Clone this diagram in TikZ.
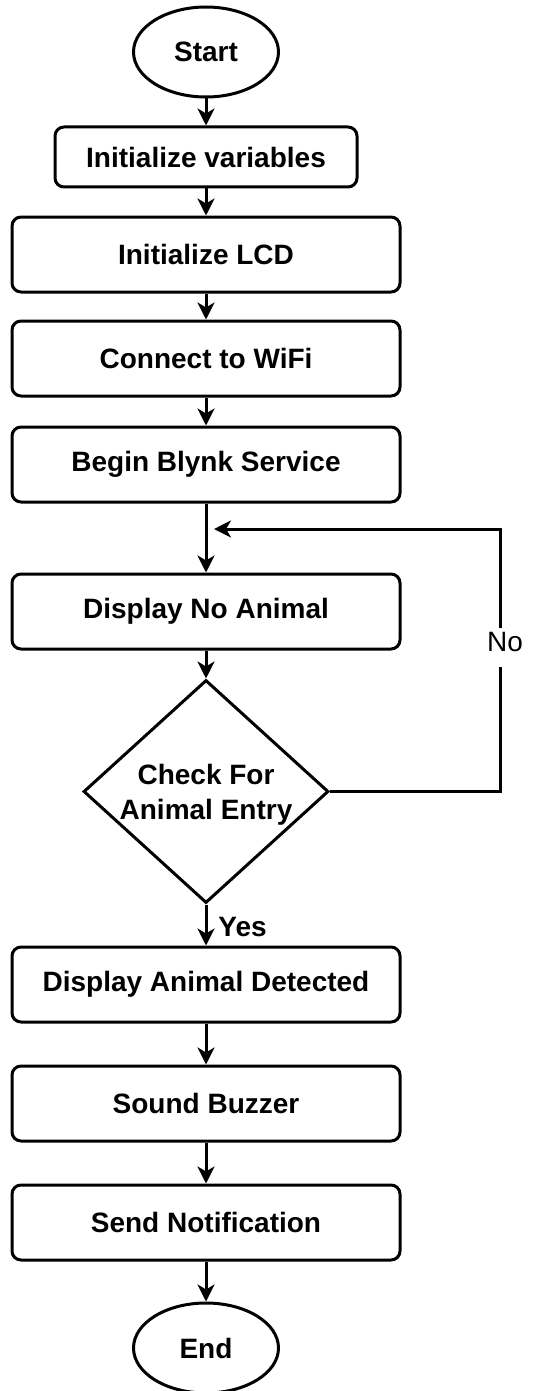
\documentclass[tikz,border=0pt]{standalone}
\usepackage{fontspec}
\setmainfont{Liberation Sans}
\usetikzlibrary{shapes.geometric,arrows.meta}
\begin{document}
\begin{tikzpicture}[x=1pt,y=-1pt,
  every node/.style={font=\fontsize{28}{35}\selectfont\bfseries},
  proc/.style={draw, line width=3pt, rounded corners=9pt, minimum width=388pt, minimum height=75pt, inner sep=0pt},
  term/.style={draw, line width=3pt, ellipse, minimum width=145pt, minimum height=90pt, inner sep=0pt},
  arr/.style={line width=3pt, -{Stealth[length=17pt,width=17pt,inset=5pt]}},
  lbl/.style={font=\fontsize{28}{35}\selectfont\bfseries, inner sep=2pt}]
\useasboundingbox (0,0) rectangle (542,1391);
\node[term] (start) at (206,52) {Start};
\node[proc, minimum width=302pt, minimum height=60pt] (iv) at (206,157) {Initialize variables};
\node[proc] (lcd) at (206,254.5) {Initialize LCD};
\node[proc] (wifi) at (206,358.5) {Connect to WiFi};
\node[proc] (blynk) at (206,464.5) {Begin Blynk Service};
\node[proc] (dna) at (206,611.5) {Display No Animal};
\node[draw, line width=3pt, diamond, minimum width=245pt, minimum height=223pt, inner sep=0pt] (dec) at (206,791.5) {};
\node[align=center, inner sep=0pt] (dect) at (206,795) {Check For\\Animal Entry};
\node[proc] (dad) at (206,984.5) {Display Animal Detected};
\node[proc] (buz) at (206,1103.5) {Sound Buzzer};
\node[proc] (notif) at (206,1222.5) {Send Notification};
\node[term] (end) at (206,1348) {End};
\coordinate (ctop) at (500,529);
\coordinate (loopend) at (214,529);
\draw[arr] (start) -- (iv);
\draw[arr] (iv) -- (lcd);
\draw[arr] (lcd) -- (wifi);
\draw[arr] (wifi) -- (blynk);
\draw[arr] (blynk) -- (dna);
\draw[arr] (dna) -- (dec);
\draw[arr] (dec) -- (dad);
\draw[arr] (dad) -- (buz);
\draw[arr] (buz) -- (notif);
\draw[arr] (notif) -- (end);
\draw[arr, line join=miter] (dec.east) -| (ctop) -- (loopend);
\node[fill=white, inner xsep=3pt, inner ysep=0pt, text height=23pt, text depth=16pt, anchor=base, font=\fontsize{28}{35}\selectfont\mdseries] (no) at (505,651) {No};
\node[lbl] (yes) at (242.5,927) {Yes};
\end{tikzpicture}
\end{document}
